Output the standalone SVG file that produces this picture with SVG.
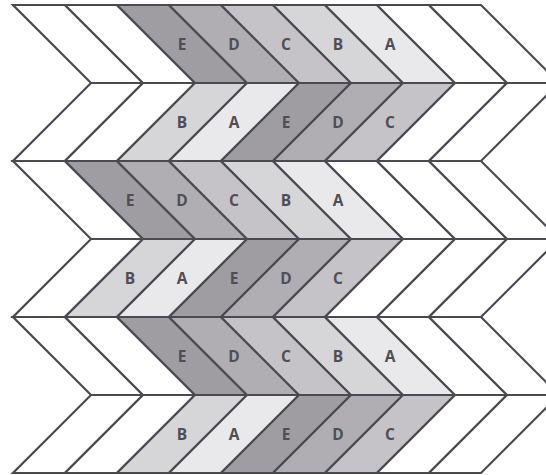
<svg xmlns="http://www.w3.org/2000/svg" width="546" height="475" viewBox="0 0 546 475">
<style>
.t{stroke:#4b4a52;stroke-width:2.2;stroke-linejoin:miter}
.w{fill:#ffffff}
.E{fill:#9f9da2}
.D{fill:#b0aeb2}
.C{fill:#c5c3c7}
.B{fill:#d6d5d8}
.A{fill:#e9e9eb}
.l{font-family:"Open Sans","Liberation Sans",sans-serif;font-size:15.5px;font-weight:700;fill:#4f4e56;text-anchor:middle;dominant-baseline:central}
</style>
<rect width="546" height="475" fill="#ffffff"/>
<g id="row1">
<polygon class="t w" points="13,5 65,5 143,83 91,83"/>
<polygon class="t w" points="65,5 117,5 195,83 143,83"/>
<g id="r1E"><polygon class="t E" points="117,5 169,5 247,83 195,83"/><text class="l" x="182" y="44">E</text></g>
<g id="r1D"><polygon class="t D" points="169,5 221,5 299,83 247,83"/><text class="l" x="234" y="44">D</text></g>
<g id="r1C"><polygon class="t C" points="221,5 273,5 351,83 299,83"/><text class="l" x="286" y="44">C</text></g>
<g id="r1B"><polygon class="t B" points="273,5 325,5 403,83 351,83"/><text class="l" x="338" y="44">B</text></g>
<g id="r1A"><polygon class="t A" points="325,5 377,5 455,83 403,83"/><text class="l" x="390" y="44">A</text></g>
<polygon class="t w" points="377,5 429,5 507,83 455,83"/>
<polygon class="t w" points="429,5 481,5 559,83 507,83"/>
</g>
<g id="row2">
<polygon class="t w" points="91,83 143,83 65,161 13,161"/>
<polygon class="t w" points="143,83 195,83 117,161 65,161"/>
<g id="r2B"><polygon class="t B" points="195,83 247,83 169,161 117,161"/><text class="l" x="182" y="122">B</text></g>
<g id="r2A"><polygon class="t A" points="247,83 299,83 221,161 169,161"/><text class="l" x="234" y="122">A</text></g>
<g id="r2E"><polygon class="t E" points="299,83 351,83 273,161 221,161"/><text class="l" x="286" y="122">E</text></g>
<g id="r2D"><polygon class="t D" points="351,83 403,83 325,161 273,161"/><text class="l" x="338" y="122">D</text></g>
<g id="r2C"><polygon class="t C" points="403,83 455,83 377,161 325,161"/><text class="l" x="390" y="122">C</text></g>
<polygon class="t w" points="455,83 507,83 429,161 377,161"/>
<polygon class="t w" points="507,83 559,83 481,161 429,161"/>
</g>
<g id="row3">
<polygon class="t w" points="13,161 65,161 143,239 91,239"/>
<g id="r3E"><polygon class="t E" points="65,161 117,161 195,239 143,239"/><text class="l" x="130" y="200">E</text></g>
<g id="r3D"><polygon class="t D" points="117,161 169,161 247,239 195,239"/><text class="l" x="182" y="200">D</text></g>
<g id="r3C"><polygon class="t C" points="169,161 221,161 299,239 247,239"/><text class="l" x="234" y="200">C</text></g>
<g id="r3B"><polygon class="t B" points="221,161 273,161 351,239 299,239"/><text class="l" x="286" y="200">B</text></g>
<g id="r3A"><polygon class="t A" points="273,161 325,161 403,239 351,239"/><text class="l" x="338" y="200">A</text></g>
<polygon class="t w" points="325,161 377,161 455,239 403,239"/>
<polygon class="t w" points="377,161 429,161 507,239 455,239"/>
<polygon class="t w" points="429,161 481,161 559,239 507,239"/>
</g>
<g id="row4">
<polygon class="t w" points="91,239 143,239 65,317 13,317"/>
<g id="r4B"><polygon class="t B" points="143,239 195,239 117,317 65,317"/><text class="l" x="130" y="278">B</text></g>
<g id="r4A"><polygon class="t A" points="195,239 247,239 169,317 117,317"/><text class="l" x="182" y="278">A</text></g>
<g id="r4E"><polygon class="t E" points="247,239 299,239 221,317 169,317"/><text class="l" x="234" y="278">E</text></g>
<g id="r4D"><polygon class="t D" points="299,239 351,239 273,317 221,317"/><text class="l" x="286" y="278">D</text></g>
<g id="r4C"><polygon class="t C" points="351,239 403,239 325,317 273,317"/><text class="l" x="338" y="278">C</text></g>
<polygon class="t w" points="403,239 455,239 377,317 325,317"/>
<polygon class="t w" points="455,239 507,239 429,317 377,317"/>
<polygon class="t w" points="507,239 559,239 481,317 429,317"/>
</g>
<g id="row5">
<polygon class="t w" points="13,317 65,317 143,395 91,395"/>
<polygon class="t w" points="65,317 117,317 195,395 143,395"/>
<g id="r5E"><polygon class="t E" points="117,317 169,317 247,395 195,395"/><text class="l" x="182" y="356">E</text></g>
<g id="r5D"><polygon class="t D" points="169,317 221,317 299,395 247,395"/><text class="l" x="234" y="356">D</text></g>
<g id="r5C"><polygon class="t C" points="221,317 273,317 351,395 299,395"/><text class="l" x="286" y="356">C</text></g>
<g id="r5B"><polygon class="t B" points="273,317 325,317 403,395 351,395"/><text class="l" x="338" y="356">B</text></g>
<g id="r5A"><polygon class="t A" points="325,317 377,317 455,395 403,395"/><text class="l" x="390" y="356">A</text></g>
<polygon class="t w" points="377,317 429,317 507,395 455,395"/>
<polygon class="t w" points="429,317 481,317 559,395 507,395"/>
</g>
<g id="row6">
<polygon class="t w" points="91,395 143,395 65,473 13,473"/>
<polygon class="t w" points="143,395 195,395 117,473 65,473"/>
<g id="r6B"><polygon class="t B" points="195,395 247,395 169,473 117,473"/><text class="l" x="182" y="434">B</text></g>
<g id="r6A"><polygon class="t A" points="247,395 299,395 221,473 169,473"/><text class="l" x="234" y="434">A</text></g>
<g id="r6E"><polygon class="t E" points="299,395 351,395 273,473 221,473"/><text class="l" x="286" y="434">E</text></g>
<g id="r6D"><polygon class="t D" points="351,395 403,395 325,473 273,473"/><text class="l" x="338" y="434">D</text></g>
<g id="r6C"><polygon class="t C" points="403,395 455,395 377,473 325,473"/><text class="l" x="390" y="434">C</text></g>
<polygon class="t w" points="455,395 507,395 429,473 377,473"/>
<polygon class="t w" points="507,395 559,395 481,473 429,473"/>
</g>
</svg>
